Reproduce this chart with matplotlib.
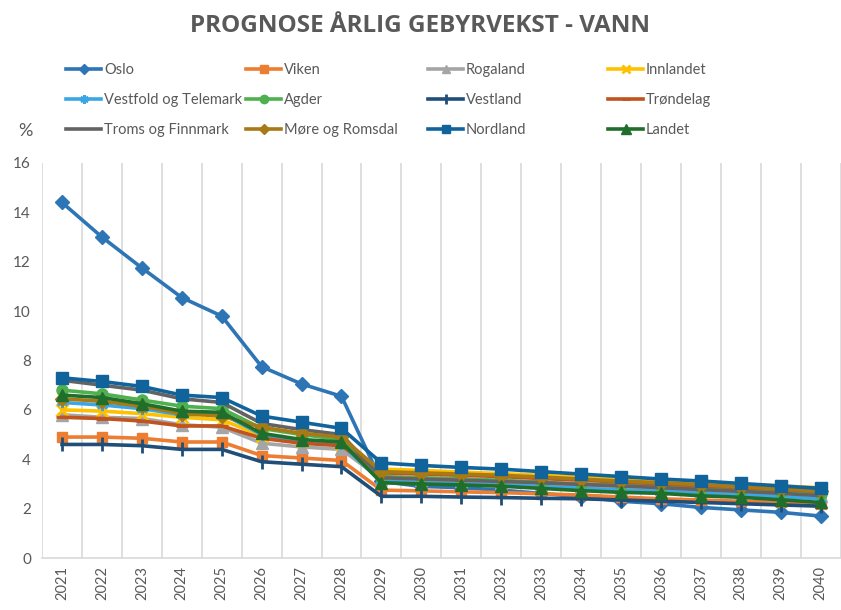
import matplotlib
matplotlib.use("Agg")
import matplotlib.pyplot as plt
import numpy as np

# år
years = [str(y) for y in range(2021, 2041)]

# prognose årlig gebyrvekst, vann (%)
oslo = [14.4, 13.0, 11.75, 10.55, 9.8, 7.75, 7.05, 6.55, 3.1, 2.9, 2.85, 2.75, 2.62, 2.48, 2.3, 2.2, 2.05, 1.95, 1.85, 1.7]
viken = [4.9, 4.9, 4.85, 4.7, 4.7, 4.15, 4.05, 3.95, 2.75, 2.72, 2.68, 2.65, 2.6, 2.55, 2.47, 2.4, 2.35, 2.3, 2.25, 2.18]
rogaland = [5.8, 5.7, 5.65, 5.4, 5.3, 4.65, 4.5, 4.4, 3.2, 3.15, 3.1, 3.05, 3.0, 2.92, 2.85, 2.8, 2.72, 2.65, 2.58, 2.5]
innlandet = [6.0, 5.95, 5.85, 5.7, 5.6, 4.95, 4.75, 4.6, 3.6, 3.55, 3.48, 3.42, 3.35, 3.27, 3.2, 3.12, 3.05, 2.97, 2.92, 2.85]
vestfold_telemark = [6.3, 6.2, 6.05, 5.8, 5.85, 5.0, 4.75, 4.6, 3.1, 3.05, 3.0, 2.95, 2.9, 2.82, 2.75, 2.7, 2.62, 2.55, 2.48, 2.4]
agder = [6.8, 6.65, 6.4, 6.15, 6.05, 5.25, 5.0, 4.8, 3.3, 3.25, 3.2, 3.15, 3.07, 3.0, 2.95, 2.88, 2.8, 2.74, 2.67, 2.6]
vestland = [4.6, 4.6, 4.55, 4.4, 4.4, 3.9, 3.8, 3.7, 2.5, 2.5, 2.47, 2.45, 2.42, 2.4, 2.35, 2.3, 2.25, 2.2, 2.15, 2.1]
trondelag = [5.7, 5.65, 5.55, 5.35, 5.35, 4.85, 4.65, 4.55, 3.45, 3.4, 3.35, 3.3, 3.22, 3.15, 3.08, 3.0, 2.92, 2.85, 2.78, 2.7]
troms_finnmark = [7.2, 7.0, 6.8, 6.45, 6.3, 5.45, 5.2, 5.0, 3.25, 3.2, 3.15, 3.1, 3.05, 2.98, 2.92, 2.85, 2.77, 2.7, 2.62, 2.53]
more_romsdal = [6.45, 6.35, 6.15, 5.85, 5.75, 5.3, 5.05, 4.9, 3.5, 3.45, 3.4, 3.35, 3.28, 3.2, 3.12, 3.05, 2.97, 2.88, 2.8, 2.72]
nordland = [7.3, 7.15, 6.95, 6.6, 6.5, 5.75, 5.5, 5.25, 3.85, 3.75, 3.67, 3.6, 3.5, 3.4, 3.3, 3.2, 3.12, 3.02, 2.92, 2.82]
landet = [6.6, 6.5, 6.25, 5.95, 5.9, 5.05, 4.8, 4.7, 3.05, 3.0, 2.96, 2.91, 2.82, 2.73, 2.66, 2.62, 2.52, 2.46, 2.36, 2.25]

series = [
    ("Oslo", oslo, "#2E75B6", "D", 7),
    ("Viken", viken, "#ED7D31", "s", 7),
    ("Rogaland", rogaland, "#A5A5A5", "^", 8),
    ("Innlandet", innlandet, "#FFC000", "x", 8),
    ("Vestfold og Telemark", vestfold_telemark, "#3AA6E4", (6, 2, 0), 8),
    ("Agder", agder, "#4FB04F", "o", 8),
    ("Vestland", vestland, "#1F4E79", "|", 10),
    ("Trøndelag", trondelag, "#C0531E", "_", 8),
    ("Troms og Finnmark", troms_finnmark, "#636363", None, 0),
    ("Møre og Romsdal", more_romsdal, "#A87A16", "D", 7),
    ("Nordland", nordland, "#11649B", "s", 8),
    ("Landet", landet, "#1F6E2C", "^", 9),
]

grey = "#595959"
plt.rcParams["font.family"] = ["Lato", "DejaVu Sans"]

fig = plt.figure(figsize=(8.41, 6.10), dpi=100)
ax = fig.add_axes([0.050, 0.0852, 0.9495, 0.6476])

x = np.arange(len(years))
handles = []
for name, vals, col, mk, ms in series:
    h, = ax.plot(x, vals, color=col, lw=2.6, marker=mk, markersize=ms,
                 markeredgewidth=2 if mk in ("x", "|", "_", (6, 2, 0)) else 1,
                 markeredgecolor=col, label=name)
    handles.append(h)

# vertikale rutenett mellom kategoriene
for b in np.arange(-0.5, len(years), 1.0):
    ax.axvline(b, color="#D9D9D9", lw=1.2, zorder=0)

ax.set_xlim(-0.5, len(years) - 0.5)
ax.set_ylim(0, 16)
ax.set_yticks(range(0, 17, 2))
ax.set_xticks(x)
ax.set_xticklabels(years, rotation=90, fontsize=10.5, color=grey)
ax.tick_params(axis="y", length=0, labelsize=11, labelcolor=grey, pad=8)
ax.tick_params(axis="x", length=0, pad=6)
for s in ["top", "right", "left"]:
    ax.spines[s].set_visible(False)
ax.spines["bottom"].set_color("#D9D9D9")
ax.spines["bottom"].set_linewidth(1.2)

fig.text(0.5, 0.958, "PROGNOSE ÅRLIG GEBYRVEKST - VANN", ha="center", va="center",
         fontsize=17.5, fontweight="bold", color=grey, family="Open Sans")
fig.text(0.030, 0.785, "%", ha="center", va="center", fontsize=13, color=grey)

# én legende per kolonne, slik som i Excel-oppsettet
col_x = [66, 246, 428, 608]
for c in range(4):
    idx = [c, c + 4, c + 8]
    leg = fig.legend([handles[i] for i in idx], [series[i][0] for i in idx],
                     loc="upper left", bbox_to_anchor=(col_x[c] / 841, 1 - 63 / 610),
                     frameon=False, fontsize=10.5, handlelength=2.4, markerscale=0.75,
                     handletextpad=0.2, labelspacing=1.1, borderpad=0, borderaxespad=0)
    for t in leg.get_texts():
        t.set_color(grey)

fig.savefig("out.png", dpi=100)
